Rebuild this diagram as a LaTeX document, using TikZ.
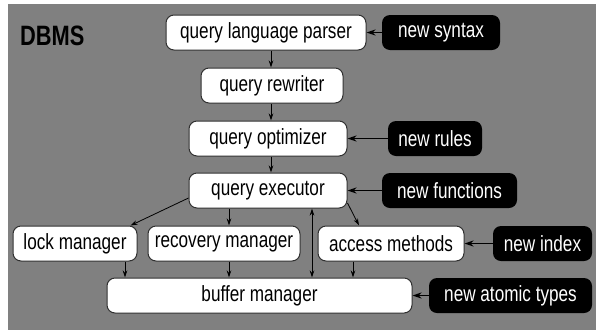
\documentclass[tikz,border=0pt]{standalone}
\usepackage{fontspec}
\setmainfont{Liberation Sans}[FakeStretch=0.78]
\usetikzlibrary{arrows.meta}
\definecolor{panel}{HTML}{808080}
\definecolor{rim}{HTML}{303030}
\tikzset{
  wbox/.style={draw=rim, fill=white, line width=1pt, rounded corners=8pt,
    minimum height=35pt, inner sep=0pt, text=black},
  bbox/.style={fill=black, text=white, rounded corners=8pt,
    minimum height=35pt, inner sep=0pt},
  conn/.style={-{Stealth[length=7pt,width=4.5pt]}, line width=0.8pt, draw=black},
  feed/.style={-{Stealth[length=9pt,width=6pt]}, line width=1.8pt, draw=black},
  both/.style={{Stealth[length=7pt,width=4.5pt]}-{Stealth[length=7pt,width=4.5pt]}, line width=0.8pt, draw=black}
}
\begin{document}
\begin{tikzpicture}[x=1pt,y=-1pt,font=\fontsize{22}{26}\selectfont]
\useasboundingbox (0,0) rectangle (596,330);
\fill[panel] (8,4) rectangle (596,330);

% title
\node[anchor=base west, inner sep=0pt, font=\fontsize{28}{32}\selectfont\bfseries] (title) at (20,45) {DBMS};

% query processing chain
\node[wbox, minimum width=200pt] (parser) at (266,32.5) {query language parser};
\node[wbox, minimum width=142pt] (rewr) at (272,85.5) {query rewriter};
\node[wbox, minimum width=158pt] (opt) at (268,138.5) {query optimizer};
\node[wbox, minimum width=158pt] (exec) at (268,190.5) {query executor};

% managers
\node[wbox, minimum width=124pt] (lock) at (75,243.5) {lock manager};
\node[wbox, minimum width=152pt] (rec) at (224,243.5) {recovery manager};
\node[wbox, minimum width=146pt] (acc) at (391,243.5) {access methods};
\node[wbox, minimum width=305pt] (buf) at (259.5,295.5) {buffer manager};

% extension points
\node[bbox, minimum width=118pt] (syntax) at (441,32.5) {new syntax};
\node[bbox, minimum width=94pt] (rules) at (435,138.5) {new rules};
\node[bbox, minimum width=135pt] (funcs) at (449.5,190.5) {new functions};
\node[bbox, minimum width=99pt] (index) at (542.5,243.5) {new index};
\node[bbox, minimum width=163pt] (types) at (510.5,295.5) {new atomic types};

% chain connectors
\draw[conn] ([xshift=5pt]parser.south) -- ([xshift=-1pt]rewr.north);
\draw[conn] ([xshift=-1pt]rewr.south) -- ([xshift=3pt]opt.north);
\draw[conn] ([xshift=3pt]opt.south) -- ([xshift=3pt]exec.north);

% executor to managers
\draw[conn] ([yshift=-7.5pt]exec.west) -- ([xshift=-7pt]lock.north east);
\draw[conn] ([xshift=-39pt]exec.south) -- ([xshift=5pt]rec.north);
\draw[conn] ([yshift=-12.5pt]exec.east) -- ([xshift=-32pt]acc.north);
\draw[both] ([xshift=44pt]exec.south) -- ([xshift=52.5pt]buf.north);

% managers to buffer
\draw[conn] ([xshift=50pt]lock.south) -- ([xshift=-134.5pt]buf.north);
\draw[conn] ([xshift=5pt]rec.south) -- ([xshift=-30.5pt]buf.north);
\draw[conn] ([xshift=-38pt]acc.south) -- ([xshift=93.5pt]buf.north);

% extensions feeding in
\draw[feed] (syntax.west) -- (parser.east);
\draw[feed] (rules.west) -- (opt.east);
\draw[feed] (funcs.west) -- (exec.east);
\draw[feed] (index.west) -- (acc.east);
\draw[feed] (types.west) -- (buf.east);
\end{tikzpicture}
\end{document}
